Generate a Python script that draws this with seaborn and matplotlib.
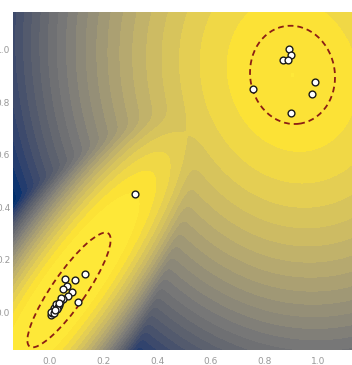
import numpy as np
import pandas as pd
import matplotlib
matplotlib.use("Agg")
import matplotlib.pyplot as plt
import seaborn as sns
from matplotlib.patches import Ellipse

# --- two-component mixture behind the shading: lower-left, upper-right ---
MIX_WEIGHTS = [0.776, 0.224]
MIX_MEANS = [(0.07, 0.09), (0.905, 0.905)]
MIX_SIGMA_MAJOR = [0.20, 0.185]
MIX_SIGMA_MINOR = [0.045, 0.15]
MIX_ANGLE = [55.0, 105.0]  # direction of the major axis, degrees

# shading range of the log-density
LOGP_MIN = -30.3
LOGP_MAX = 0.25
N_LEVELS = 25

# --- dashed ellipses (centre, full width/height, angle) ---
ELL_CENTRES = [(0.071, 0.084), (0.905, 0.905)]
ELL_WIDTHS = [0.522, 0.316]
ELL_HEIGHTS = [0.126, 0.376]
ELL_ANGLES = [55.9, 7.6]

# --- observed points ---
PTS_X = [0.131, 0.056, 0.093, 0.062, 0.050, 0.081, 0.068, 0.047, 0.106,
         0.034, 0.028, 0.019, 0.012, 0.006, 0.002, 0.010, 0.016, 0.022,
         0.038, 0.030, 0.042, 0.008, 0.004, 0.025, 0.014, 0.020, 0.032,
         0.317,
         0.892, 0.899, 0.871, 0.889, 0.989, 0.979, 0.759, 0.899]
PTS_Y = [0.145, 0.126, 0.122, 0.099, 0.088, 0.078, 0.061, 0.050, 0.039,
         0.027, 0.022, 0.008, 0.001, -0.006, -0.012, 0.004, 0.014, 0.030,
         0.040, 0.018, 0.055, -0.002, 0.000, 0.012, -0.004, 0.006, 0.034,
         0.450,
         1.003, 0.981, 0.962, 0.962, 0.879, 0.831, 0.850, 0.758]

X_TICKS = [0.0, 0.2, 0.4, 0.6, 0.8, 1.0]
Y_TICKS = [0.0, 0.2, 0.4, 0.6, 0.8, 1.0]

sns.set_theme(style="white")


def log_normal(xx, yy, mean, s_maj, s_min, ang):
    t = np.deg2rad(ang)
    dx, dy = xx - mean[0], yy - mean[1]
    u = dx * np.cos(t) + dy * np.sin(t)
    v = -dx * np.sin(t) + dy * np.cos(t)
    return -0.5 * ((u / s_maj) ** 2 + (v / s_min) ** 2) - np.log(2 * np.pi * s_maj * s_min)


gx = np.linspace(-0.2, 1.2, 600)
gy = np.linspace(-0.2, 1.2, 600)
XX, YY = np.meshgrid(gx, gy)
comps = [np.log(w) + log_normal(XX, YY, m, a, b, ang)
         for w, m, a, b, ang in zip(MIX_WEIGHTS, MIX_MEANS, MIX_SIGMA_MAJOR,
                                    MIX_SIGMA_MINOR, MIX_ANGLE)]
logp = np.logaddexp(comps[0], comps[1])

fig = plt.figure(figsize=(3.52, 3.65), dpi=100)
ax = fig.add_axes([13 / 352, 15 / 365, 339 / 352, 338 / 365])

ax.contourf(XX, YY, logp, levels=np.linspace(LOGP_MIN, LOGP_MAX, N_LEVELS),
            cmap="cividis", extend="both")

for c, w, h, a in zip(ELL_CENTRES, ELL_WIDTHS, ELL_HEIGHTS, ELL_ANGLES):
    ax.add_patch(Ellipse(c, w, h, angle=a, fill=False, edgecolor="#8b1e14",
                         linestyle=(0, (3.2, 2.2)), linewidth=1.3, zorder=3))

pts = pd.DataFrame({"x": PTS_X, "y": PTS_Y})
sns.scatterplot(data=pts, x="x", y="y", color="white", edgecolor="#1a1a1a",
                s=24, linewidth=1.0, zorder=4, ax=ax)

ax.set_xlim(-0.138, 1.127)
ax.set_ylim(-0.145, 1.145)
ax.set_xticks(X_TICKS)
ax.set_yticks(Y_TICKS)
ax.set_xlabel("")
ax.set_ylabel("")
ax.tick_params(length=0, labelsize=6.5, labelcolor="#999999")
ax.tick_params(axis="x", pad=5)
ax.tick_params(axis="y", pad=2)
for s in ax.spines.values():
    s.set_visible(False)

fig.savefig("out.png", dpi=100)
